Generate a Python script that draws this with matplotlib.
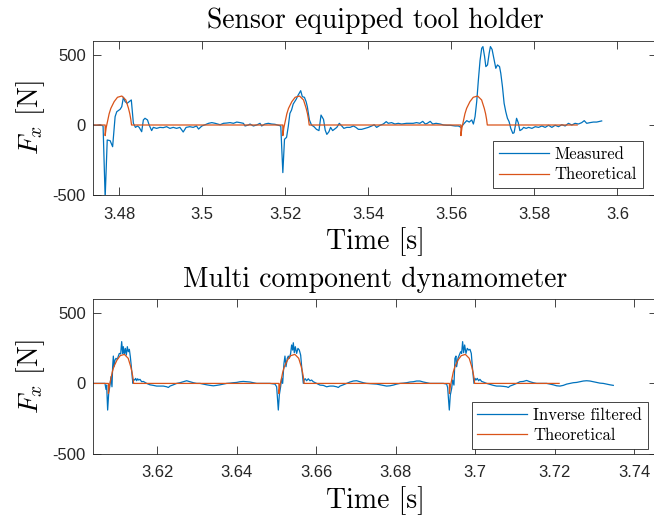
import matplotlib
matplotlib.use("Agg")
import matplotlib.pyplot as plt

plt.rcParams['mathtext.fontset'] = 'cm'
plt.rcParams['axes.unicode_minus'] = False

# ---------------- data: top (sensor equipped tool holder) ----------------
top_meas_t = [3.4736, 3.4745, 3.4754, 3.4761, 3.4766, 3.4771, 3.4778, 3.4784, 3.4790, 3.4794,
              3.4802, 3.4806, 3.4810, 3.4814, 3.4819, 3.4824, 3.4829, 3.4834, 3.4839, 3.4844,
              3.4848, 3.4854, 3.4858, 3.4862, 3.4868, 3.4872, 3.4878, 3.4882, 3.4890, 3.4898,
              3.4906, 3.4914, 3.4922, 3.4930, 3.4938, 3.4946, 3.4954, 3.4961, 3.4970, 3.4978,
              3.4986, 3.4991, 3.4999, 3.5007, 3.5015, 3.5023, 3.5031, 3.5043, 3.5051, 3.5059,
              3.5067, 3.5075, 3.5083, 3.5091, 3.5099, 3.5103, 3.5111, 3.5115, 3.5123, 3.5131,
              3.5139, 3.5143, 3.5151, 3.5159, 3.5167, 3.5175, 3.5183, 3.5189,
              3.5194, 3.5198, 3.5203, 3.5207, 3.5211, 3.5215, 3.5219, 3.5226, 3.5231, 3.5237,
              3.5241, 3.5246, 3.5250, 3.5253, 3.5258, 3.5263, 3.5269, 3.5275, 3.5281, 3.5286,
              3.5292, 3.5296, 3.5300, 3.5305, 3.5309, 3.5314, 3.5318, 3.5324, 3.5330, 3.5336,
              3.5341, 3.5348, 3.5356, 3.5364, 3.5370, 3.5376, 3.5384, 3.5392, 3.5400, 3.5408,
              3.5414, 3.5420, 3.5428, 3.5436, 3.5443, 3.5448, 3.5456, 3.5464, 3.5472, 3.5480,
              3.5492, 3.5500, 3.5508, 3.5516, 3.5524, 3.5531, 3.5537, 3.5542, 3.5549, 3.5555,
              3.5563, 3.5573, 3.5581, 3.5589, 3.5597, 3.5609, 3.5617, 3.5623,
              3.5631, 3.5637, 3.5643, 3.5649, 3.5653, 3.5657, 3.5661, 3.5665, 3.5669, 3.5673,
              3.5676, 3.5680, 3.5683, 3.5687, 3.5691, 3.5694, 3.5698, 3.5703, 3.5707, 3.5711,
              3.5716, 3.5719, 3.5723, 3.5727, 3.5731, 3.5735, 3.5739, 3.5743, 3.5748, 3.5751,
              3.5754, 3.5757, 3.5761, 3.5765, 3.5770, 3.5774, 3.5780, 3.5786, 3.5794, 3.5802,
              3.5810, 3.5818, 3.5826, 3.5834, 3.5842, 3.5850, 3.5858, 3.5866, 3.5874, 3.5882,
              3.5890, 3.5898, 3.5906, 3.5914, 3.5920, 3.5926, 3.5934, 3.5942, 3.5950, 3.5962]
top_meas_F = [0, -2, 2, -7, -520, -107, -112, -155, 60, 95,
              112, 131, 198, 167, 155, 167, 179, 12, -17, -7,
              -17, -48, 36, 48, 36, 0, -40, -17, -24, -17,
              -19, -12, -24, -17, -24, -17, -50, -17, -12, -17,
              -7, -29, -7, 2, 12, 17, 12, 2, 12, 14,
              17, 12, 21, 17, 12, -7, 0, 7, -7, 0,
              12, -7, 7, 12, 7, 5, -2, -7,
              -340, -102, -88, -12, 83, 107, 150, 183, 214, 245,
              202, 198, 167, 131, 36, 0, -12, -31, -40, 71,
              40, -36, -67, -48, -17, -40, -31, -17, 12, -7,
              -24, -17, -17, -7, -17, -31, -31, -24, -17, -7,
              2, -17, -2, 7, 24, 12, 17, 7, 12, 7,
              12, 12, 12, 17, 12, 26, 7, 12, 26, 7,
              12, 7, 0, -2, -2, -7, -7, -17,
              12, 31, 21, 36, 7, 60, 167, 321, 460, 548,
              560, 488, 417, 429, 512, 560, 540, 464, 405, 429,
              417, 369, 274, 155, 95, 48, 24, -24, -60, -55,
              -7, 48, 17, -40, -31, -17, -24, -17, -24, -12,
              -17, -7, -17, -2, -17, -2, -12, 2, -7, 12,
              0, 12, 7, 17, 31, 12, 17, 21, 21, 29]

top_theo_t = [3.4736,
              3.4766, 3.4766, 3.47684, 3.47716, 3.47756, 3.47797, 3.47877, 3.47957, 3.48062,
              3.48158, 3.48222, 3.48254, 3.48278, 3.48295,
              3.5194, 3.5194, 3.51964, 3.51996, 3.52036, 3.52077, 3.52157, 3.52237, 3.52342,
              3.52438, 3.52502, 3.52534, 3.52558, 3.52575,
              3.5623, 3.5623, 3.56254, 3.56286, 3.56326, 3.56367, 3.56447, 3.56527, 3.56632,
              3.56728, 3.56792, 3.56824, 3.56848, 3.56865,
              3.5903]
top_theo_F = [0,
              0, -76, -20, 24, 80, 119, 167, 198, 207, 179, 119, 80, 40, 0,
              0, -76, -20, 24, 80, 119, 167, 198, 207, 179, 119, 80, 40, 0,
              0, -76, -20, 24, 80, 119, 167, 198, 207, 179, 119, 80, 40, 0,
              0]

# ---------------- data: bottom (multi component dynamometer) ----------------
bot_inv_t = [3.60374, 3.60684, 3.60710, 3.60726, 3.60751, 3.60777, 3.60810, 3.60835, 3.60860, 3.60877,
             3.60894, 3.60911, 3.60936, 3.60961, 3.60995, 3.61020, 3.61045, 3.61079, 3.61104, 3.61129,
             3.61146, 3.61171, 3.61196, 3.61221, 3.61246, 3.61271, 3.61297, 3.61322, 3.61347, 3.61372,
             3.61389, 3.61406, 3.61431, 3.61456, 3.61481, 3.61506, 3.61531, 3.61565, 3.61607, 3.61649,
             3.61733, 3.61816, 3.61900, 3.61984, 3.62068, 3.62152, 3.62236, 3.62278, 3.62320, 3.62404,
             3.62488, 3.62571, 3.62655, 3.62739, 3.62823, 3.62907, 3.62991, 3.63075, 3.63158, 3.63242,
             3.63326, 3.63410, 3.63494, 3.63578, 3.63661, 3.63745, 3.63829, 3.63913, 3.63997, 3.64081,
             3.64165, 3.64249, 3.64332, 3.64416, 3.64500, 3.64668, 3.64835, 3.64961, 3.65003,
             3.65045, 3.65070, 3.65103, 3.65129, 3.65154, 3.65187, 3.65212, 3.65238, 3.65271, 3.65296,
             3.65321, 3.65355, 3.65380, 3.65405, 3.65422, 3.65447, 3.65472, 3.65506, 3.65539, 3.65573,
             3.65607, 3.65640, 3.65674, 3.65699, 3.65724, 3.65757, 3.65799, 3.65841, 3.65883, 3.65925,
             3.66009, 3.66093, 3.66177, 3.66261, 3.66344, 3.66428, 3.66512, 3.66554, 3.66596, 3.66680,
             3.66764, 3.66848, 3.66932, 3.67016, 3.67099, 3.67183, 3.67267, 3.67519, 3.67686, 3.67770,
             3.67854, 3.67938, 3.68022, 3.68106, 3.68189, 3.68273, 3.68357, 3.68441, 3.68525, 3.68609,
             3.68693, 3.68776, 3.68860, 3.69196, 3.69280, 3.69305,
             3.69347, 3.69372, 3.69406, 3.69431, 3.69464, 3.69489, 3.69515, 3.69531, 3.69565, 3.69598,
             3.69632, 3.69657, 3.69682, 3.69707, 3.69733, 3.69766, 3.69800, 3.69833, 3.69867, 3.69900,
             3.69934, 3.69967, 3.69993, 3.70018, 3.70051, 3.70085, 3.70118, 3.70160, 3.70202, 3.70286,
             3.70370, 3.70454, 3.70538, 3.70621, 3.70705, 3.70789, 3.70831, 3.70873, 3.70957, 3.71041,
             3.71125, 3.71209, 3.71292, 3.71376, 3.71460, 3.71544, 3.71796, 3.71963, 3.72047, 3.72131,
             3.72215, 3.72299, 3.72383, 3.72466, 3.72550, 3.72634, 3.72718, 3.72802, 3.72886, 3.72970,
             3.73053, 3.73137, 3.73221, 3.73305, 3.73389, 3.73473]
bot_inv_F = [0, 0, -43, -12, -190, -71, -12, 48, -24, 119,
             195, 119, 167, 179, 171, 195, 214, 210, 298, 214,
             262, 210, 250, 202, 262, 226, 243, 190, 119, 36,
             0, 29, 24, 36, 19, 33, 24, 29, 12, 14,
             0, -10, -14, -19, -19, -19, -24, -29, -19, -10,
             0, 5, 12, 19, 12, 5, 0, 0, -5, -10,
             -14, -17, -14, -10, -5, 0, 2, 5, 7, 12,
             14, 12, 10, 5, 0, 0, 0, -5, -24,
             -190, -83, -24, 36, 0, 143, 195, 119, 179, 195,
             179, 214, 274, 238, 290, 219, 262, 214, 250, 238,
             202, 95, 0, 29, 33, 19, 33, 19, 24, 12,
             0, -12, -14, -24, -19, -19, -24, -29, -19, -10,
             0, 10, 17, 19, 12, 5, 0, -5, -14, -19,
             -17, -12, -5, 0, 2, 5, 10, 12, 17, 17,
             10, 5, 0, 0, -5, -29,
             -190, -83, -36, 24, -12, 179, 195, 119, 179, 202,
             226, 214, 298, 219, 274, 214, 250, 238, 243, 214,
             95, 0, 36, 24, 36, 19, 29, 14, 10, 0,
             -7, -14, -19, -19, -21, -24, -29, -19, -10, 0,
             12, 14, 21, 12, 5, 0, 0, -10, -17, -19,
             -14, -5, 0, 5, 7, 12, 17, 19, 17, 12,
             7, 2, 0, -5, -10, -14]

bot_theo_t = [3.60374,
              3.6077, 3.6077, 3.60794, 3.60826, 3.60866, 3.60907, 3.60987, 3.61067, 3.61172,
              3.61268, 3.61332, 3.61364, 3.61388, 3.61405,
              3.6506, 3.6506, 3.65084, 3.65116, 3.65156, 3.65197, 3.65277, 3.65357, 3.65462,
              3.65558, 3.65622, 3.65654, 3.65678, 3.65695,
              3.6935, 3.6935, 3.69374, 3.69406, 3.69446, 3.69487, 3.69567, 3.69647, 3.69752,
              3.69848, 3.69912, 3.69944, 3.69968, 3.69985,
              3.7211]
bot_theo_F = [0,
              0, -72, -20, 24, 80, 119, 167, 198, 207, 179, 119, 80, 40, 0,
              0, -72, -20, 24, 80, 119, 167, 198, 207, 179, 119, 80, 40, 0,
              0, -72, -20, 24, 80, 119, 167, 198, 207, 179, 119, 80, 40, 0,
              0]

top_xticks = [3.48, 3.50, 3.52, 3.54, 3.56, 3.58, 3.60]
top_xticklabels = ['3.48', '3.5', '3.52', '3.54', '3.56', '3.58', '3.6']
bot_xticks = [3.62, 3.64, 3.66, 3.68, 3.70, 3.72, 3.74]
bot_xticklabels = ['3.62', '3.64', '3.66', '3.68', '3.7', '3.72', '3.74']
yticks = [-500, 0, 500]
yticklabels = ['-500', '0', '500']

BLUE = '#0072BD'
ORANGE = '#D95319'
AXC = '#262626'
SERIF = 'cmr10'

fig = plt.figure(figsize=(6.54, 5.20), dpi=100)
W, H = 654.0, 520.0

def make_axes(top_px, bot_px):
    left = 92.7 / W
    right = 657.3 / W
    return fig.add_axes([left, 1 - bot_px / H, right - left, (bot_px - top_px) / H])

ax1 = make_axes(41.0, 195.0)
ax2 = make_axes(299.3, 453.5)

def style(ax, xticks, xlabels, xlim, title, leg_labels, leg_anchor):
    ax.set_xlim(*xlim)
    ax.set_ylim(-500, 600)
    ax.set_xticks(xticks)
    ax.set_xticklabels(xlabels)
    ax.set_yticks(yticks)
    ax.set_yticklabels(yticklabels)
    ax.tick_params(direction='in', length=5.5, width=0.6, color=AXC, labelcolor=AXC,
                   labelsize=12, top=True, right=True)
    ax.tick_params(axis='x', pad=8.4)
    ax.tick_params(axis='y', pad=5)
    for lab in ax.get_xticklabels() + ax.get_yticklabels():
        lab.set_family('Liberation Sans')
    for sp in ax.spines.values():
        sp.set_color(AXC)
        sp.set_linewidth(0.6)
    ax.set_title(title, family=SERIF, fontsize=20, color='black', pad=9)
    ax.set_xlabel('Time [s]', family=SERIF, fontsize=20, color='black', labelpad=4)
    ax.set_ylabel(r'$F_x$ [N]', family=SERIF, fontsize=20, color='black', labelpad=4)
    leg = ax.legend(leg_labels, loc='lower right', bbox_to_anchor=leg_anchor,
                    prop={'family': SERIF, 'size': 12}, frameon=True, fancybox=False,
                    edgecolor=AXC, framealpha=1, handlelength=3.0, handletextpad=0.35,
                    borderpad=0.35, labelspacing=0.29, borderaxespad=0)
    leg.get_frame().set_linewidth(0.6)

ax1.plot(top_meas_t, top_meas_F, color=BLUE, lw=0.9)
ax1.plot(top_theo_t, top_theo_F, color=ORANGE, lw=0.9)
style(ax1, top_xticks, top_xticklabels, (3.4736, 3.6096),
      'Sensor equipped tool holder', ['Measured', 'Theoretical'], (0.9747, 0.0435))

ax2.plot(bot_inv_t, bot_inv_F, color=BLUE, lw=0.9)
ax2.plot(bot_theo_t, bot_theo_F, color=ORANGE, lw=0.9)
style(ax2, bot_xticks, bot_xticklabels, (3.60375, 3.7458),
      'Multi component dynamometer', ['Inverse filtered', 'Theoretical'], (0.9835, 0.029))

fig.savefig('out.png', dpi=100)
